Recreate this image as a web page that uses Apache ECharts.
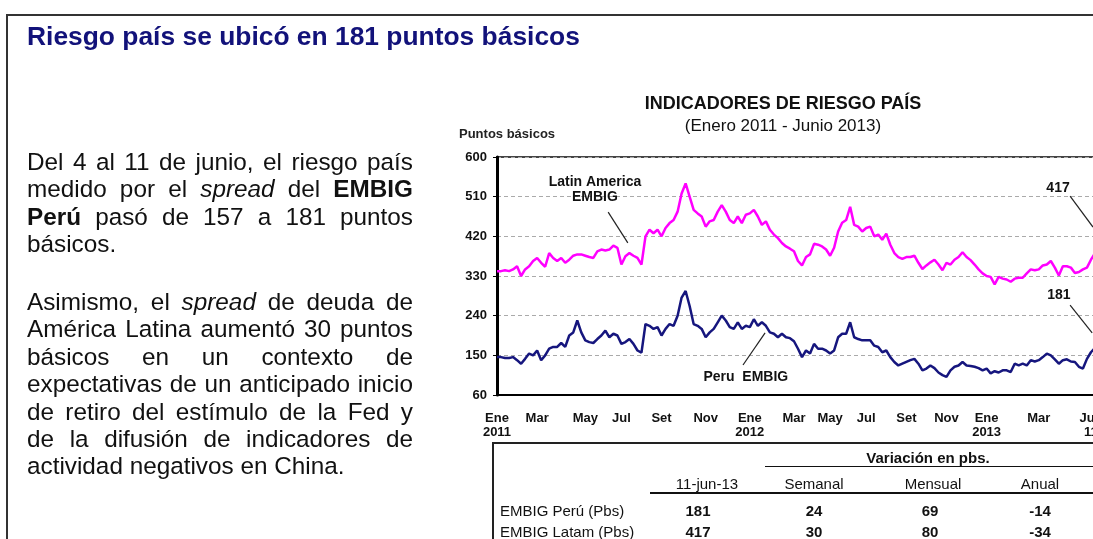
<!DOCTYPE html>
<html>
<head>
<meta charset="utf-8">
<title>Riesgo país</title>
<script src="https://cdn.jsdelivr.net/npm/echarts@6/dist/echarts.min.js"></script>
<style>
body{margin:0;width:1093px;height:539px;overflow:hidden;background:#fff;position:relative;font-family:'Liberation Sans',Arial,sans-serif;}
#chart{position:absolute;left:0;top:0;width:1093px;height:539px;}
.line-h{position:absolute;height:0;}
.line-v{position:absolute;width:0;}
.main-title{position:absolute;left:27px;top:21px;font-size:26.4px;font-weight:bold;color:#12127a;white-space:nowrap;}
.para{position:absolute;left:27px;width:386px;font-size:24.3px;line-height:27.4px;color:#111;}
.para .j{text-align:justify;text-align-last:justify;}
.cell{position:absolute;font-size:15px;color:#111;white-space:nowrap;transform:translate(-50%,-50%);}
.cell.l{transform:translate(0,-50%);}
.b{font-weight:bold;}
</style>
</head>
<body>
<div id="chart"></div>

<div class="line-h" style="left:6px;top:14px;width:1100px;border-top:2px solid #333;"></div>
<div class="line-v" style="left:6px;top:14px;height:540px;border-left:2px solid #333;"></div>

<div class="main-title">Riesgo país se ubicó en 181 puntos básicos</div>

<div class="para" style="top:148px;">
  <div class="j">Del 4 al 11 de junio, el riesgo país</div>
  <div class="j">medido por el <i>spread</i> del <b>EMBIG</b></div>
  <div class="j"><b>Perú</b> pasó de 157 a 181 puntos</div>
  <div>básicos.</div>
</div>
<div class="para" style="top:288px;">
  <div class="j">Asimismo, el <i>spread</i> de deuda de</div>
  <div class="j">América Latina aumentó 30 puntos</div>
  <div class="j">básicos en un contexto de</div>
  <div class="j">expectativas de un anticipado inicio</div>
  <div class="j">de retiro del estímulo de la Fed y</div>
  <div class="j">de la difusión de indicadores de</div>
  <div>actividad negativos en China.</div>
</div>

<!-- tabla de variaciones -->
<div class="line-h" style="left:492px;top:442px;width:610px;border-top:2px solid #222;"></div>
<div class="line-v" style="left:492px;top:442px;height:100px;border-left:2px solid #222;"></div>
<div class="line-h" style="left:765px;top:466px;width:340px;border-top:1px solid #111;"></div>
<div class="line-h" style="left:650px;top:492px;width:450px;border-top:2px solid #111;"></div>
<div id="table"></div>

<script>
// EMBIG Latam y Perú, datos semanales ene-2011 a 11-jun-2013 (pbs)
const latamEmbig = [
  341, 341, 343, 341, 345, 352, 330, 345, 352, 364,
  371, 360, 351, 382, 371, 364, 371, 360, 367, 376,
  379, 379, 376, 373, 371, 386, 390, 388, 390, 399,
  394, 356, 375, 382, 376, 371, 356, 420, 435, 427,
  435, 420, 439, 450, 457, 476, 517, 540, 510, 480,
  472, 465, 442, 454, 457, 476, 491, 476, 457, 450,
  465, 450, 469, 472, 480, 465, 446, 454, 435, 424,
  416, 405, 397, 392, 386, 364, 354, 373, 379, 403,
  401, 397, 390, 376, 394, 431, 451, 457, 487, 446,
  442, 431, 439, 442, 420, 424, 412, 426, 401, 382,
  373, 369, 373, 373, 376, 360, 346, 354, 361, 367,
  356, 343, 360, 356, 367, 373, 384, 373, 366, 356,
  345, 336, 330, 328, 311, 328, 324, 322, 317, 324,
  326, 326, 336, 345, 343, 345, 354, 356, 364, 349,
  331, 352, 352, 349, 337, 339, 345, 349, 367, 382,
  400, 417
];
const peruEmbig = [
  146, 146, 144, 144, 146, 139, 131, 142, 154, 150,
  161, 139, 150, 165, 169, 169, 178, 169, 195, 202,
  229, 202, 184, 180, 178, 187, 195, 206, 191, 199,
  195, 176, 180, 187, 176, 161, 156, 221, 217, 210,
  214, 195, 210, 221, 217, 240, 281, 296, 262, 221,
  217, 210, 191, 202, 210, 225, 240, 229, 214, 210,
  225, 210, 217, 214, 232, 217, 225, 217, 202, 199,
  191, 199, 191, 189, 182, 165, 146, 161, 154, 176,
  165, 165, 161, 154, 161, 191, 199, 199, 225, 191,
  187, 184, 184, 184, 172, 169, 157, 161, 146, 135,
  127, 131, 135, 139, 142, 131, 116, 120, 127, 121,
  111, 105, 101, 116, 124, 127, 135, 127, 126, 124,
  121, 116, 120, 109, 114, 111, 116, 116, 112, 131,
  127, 131, 127, 139, 136, 139, 146, 154, 150, 141,
  131, 139, 141, 136, 135, 124, 120, 142, 157, 167,
  175, 181
];

// etiquetas del eje x (posición en semanas)
const tickIdx = [0, 10, 22, 31, 41, 52, 63, 74, 83, 92, 102, 112, 122, 135, 148];
const tickLabels = ['Ene\n2011', 'Mar', 'May', 'Jul', 'Set', 'Nov', 'Ene\n2012', 'Mar', 'May',
  'Jul', 'Set', 'Nov', 'Ene\n2013', 'Mar', 'Jun\n11'];

// tabla
const rowNames = ['EMBIG Perú (Pbs)', 'EMBIG Latam (Pbs)'];
const colNames = ['11-jun-13', 'Semanal', 'Mensual', 'Anual'];
const rowValues = [[181, 24, 69, -14], [417, 30, 80, -34]];

// anotaciones en coordenadas de datos [semana, pbs]
const noteTexts = ['Latin America\nEMBIG', '417', '181', 'Peru  EMBIG'];
const notePos = [[24.4, 525], [139.8, 530], [140.0, 287], [62.0, 101]];
const arrowFrom = [[27.7, 475], [142.8, 511], [142.8, 264], [61.3, 128]];
const arrowTo = [[32.6, 405], [148.5, 441], [148.3, 201], [66.8, 201]];

const weeks = latamEmbig.map((v, i) => String(i));
const font = "'Liberation Sans', Arial, sans-serif";

// tabla html
const colX = [707, 814, 933, 1040];
const valX = [698, 814, 930, 1040];
const rowY = [510, 531];
let html = '<div class="cell b" style="left:928px;top:457px;">Variación en pbs.</div>';
colNames.forEach((c, i) => {
  html += `<div class="cell" style="left:${colX[i]}px;top:483px;">${c}</div>`;
});
rowNames.forEach((r, j) => {
  html += `<div class="cell l" style="left:500px;top:${rowY[j]}px;">${r}</div>`;
  rowValues[j].forEach((v, i) => {
    html += `<div class="cell b" style="left:${valX[i]}px;top:${rowY[j]}px;">${v}</div>`;
  });
});
document.getElementById('table').innerHTML = html;

const chart = echarts.init(document.getElementById('chart'));
chart.setOption({
  animation: false,
  title: [
    {
      text: 'INDICADORES DE RIESGO PAÍS',
      subtext: '(Enero 2011 - Junio 2013)',
      left: 778, top: 90, textAlign: 'center', itemGap: 5,
      textStyle: { fontFamily: font, fontSize: 18, fontWeight: 'bold', color: '#111' },
      subtextStyle: { fontFamily: font, fontSize: 17, color: '#111' }
    },
    {
      text: 'Puntos básicos', left: 454, top: 123,
      textStyle: { fontFamily: font, fontSize: 13, fontWeight: 'bold', color: '#222' }
    }
  ],
  grid: {
    left: 497, right: -10, top: 157, bottom: 144,
    outerBoundsMode: 'none',
    show: true, borderColor: '#444', borderWidth: 2
  },
  xAxis: [
    {
      type: 'category',
      data: weeks,
      boundaryGap: false,
      axisLine: { lineStyle: { color: '#000', width: 2 } },
      axisTick: { show: false },
      axisLabel: {
        interval: (i) => tickIdx.includes(i),
        formatter: (v, i) => tickLabels[tickIdx.indexOf(i)] || '',
        margin: 16, fontFamily: font, fontSize: 13, fontWeight: 'bold',
        color: '#111', lineHeight: 14
      }
    },
    { type: 'value', min: 0, max: latamEmbig.length - 1, show: false }
  ],
  yAxis: {
    type: 'value', min: 60, max: 600, interval: 90,
    axisLine: { show: true, lineStyle: { color: '#000', width: 3 } },
    axisTick: { show: true, length: 4, lineStyle: { color: '#000', width: 1 } },
    axisLabel: { margin: 10, fontFamily: font, fontSize: 13, fontWeight: 'bold', color: '#111' },
    splitLine: { lineStyle: { color: '#aaa', type: [4, 3], width: 1 } }
  },
  series: [
    {
      name: 'Latin America EMBIG', type: 'line', data: latamEmbig,
      showSymbol: false, lineStyle: { color: '#ff00ff', width: 2.5 }
    },
    {
      name: 'Peru EMBIG', type: 'line', data: peruEmbig,
      showSymbol: false, lineStyle: { color: '#16167e', width: 2.5 }
    },
    {
      name: 'notas', type: 'line', xAxisIndex: 1, data: [],
      markLine: {
        silent: true, symbol: ['none', 'arrow'], symbolSize: [0, 9],
        label: { show: false },
        lineStyle: { color: '#222', width: 1.2, type: 'solid' },
        data: arrowFrom.map((f, i) => [{ coord: f }, { coord: arrowTo[i] }])
      },
      markPoint: {
        silent: true, symbol: 'circle', symbolSize: 0,
        label: {
          show: true, position: 'inside', formatter: (p) => p.name,
          fontFamily: font, fontSize: 14, fontWeight: 'bold', color: '#111', lineHeight: 15
        },
        data: noteTexts.map((t, i) => ({ name: t, coord: notePos[i] }))
      }
    }
  ]
});
</script>
</body>
</html>
